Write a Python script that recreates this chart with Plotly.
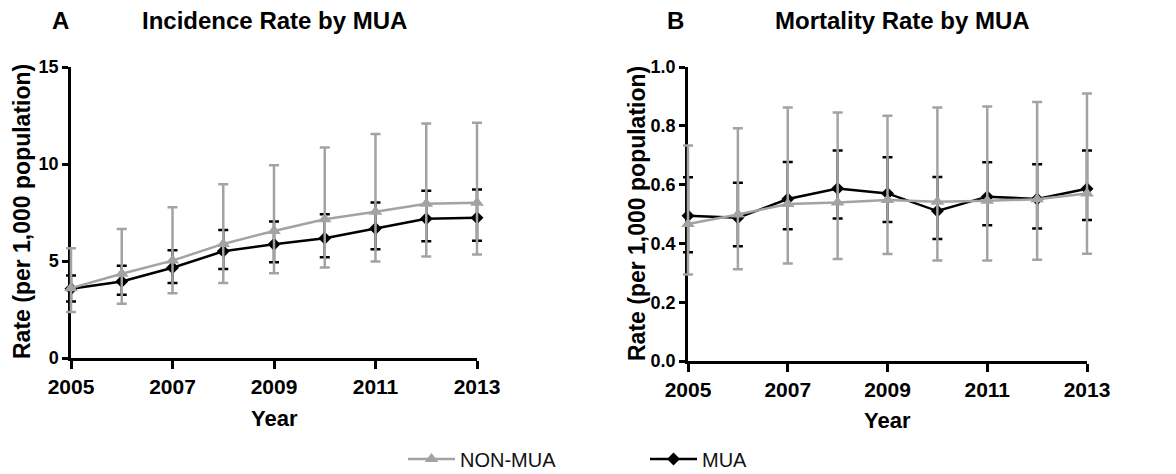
import plotly.graph_objects as go

years = [2005, 2006, 2007, 2008, 2009, 2010, 2011, 2012, 2013]

# Panel A: Incidence rate (per 1,000 population)
inc_non_mua = [3.6, 4.34, 5.02, 5.88, 6.55, 7.15, 7.54, 7.95, 8.0]
inc_non_mua_hi = [5.66, 6.65, 7.77, 8.95, 9.93, 10.85, 11.55, 12.09, 12.12]
inc_non_mua_lo = [2.37, 2.79, 3.34, 3.86, 4.37, 4.66, 4.97, 5.23, 5.33]
inc_mua = [3.57, 3.94, 4.65, 5.50, 5.86, 6.17, 6.67, 7.18, 7.23]
inc_mua_hi = [4.25, 4.75, 5.55, 6.60, 7.03, 7.41, 8.02, 8.62, 8.69]
inc_mua_lo = [2.91, 3.26, 3.87, 4.59, 4.94, 5.19, 5.61, 6.02, 6.05]

# Panel B: Mortality rate (per 1,000 population)
mor_non_mua = [0.466, 0.498, 0.534, 0.539, 0.548, 0.542, 0.545, 0.550, 0.570]
mor_non_mua_hi = [0.733, 0.792, 0.862, 0.845, 0.834, 0.862, 0.866, 0.881, 0.910]
mor_non_mua_lo = [0.294, 0.312, 0.332, 0.347, 0.364, 0.342, 0.342, 0.344, 0.365]
mor_mua = [0.494, 0.487, 0.551, 0.587, 0.570, 0.510, 0.559, 0.551, 0.586]
mor_mua_hi = [0.625, 0.606, 0.677, 0.716, 0.693, 0.626, 0.676, 0.669, 0.716]
mor_mua_lo = [0.37, 0.390, 0.448, 0.485, 0.473, 0.415, 0.462, 0.451, 0.480]

x_ticks = [2005, 2007, 2009, 2011, 2013]
GRAY = "#A3A3A3"
BLACK = "#000000"
FONT = "Liberation Sans, Arial, sans-serif"

W, H = 1176, 474
PAD = 12  # px of unclipped room around each plot for edge error bars

# pixel boxes of the two plot areas: (left, right, top, bottom)
boxA = (71, 477, 67, 358)
boxB = (688, 1087, 67, 361)
xrange_ = [2005, 2013]
yrangeA = [0, 15]
yrangeB = [0, 1.0]

fig = go.Figure()

# empty traces so the visible axis frames are drawn
for xa, ya in (("x", "y"), ("x2", "y2")):
    fig.add_trace(go.Scatter(x=[None], y=[None], xaxis=xa, yaxis=ya, mode="markers",
                             showlegend=False, hoverinfo="skip"))


def add_series(xa, ya, vals, hi, lo, name, color, symbol, msize, show):
    plus = [h - v for h, v in zip(hi, vals)]
    minus = [v - l for v, l in zip(vals, lo)]
    fig.add_trace(go.Scatter(
        x=years, y=vals, xaxis=xa, yaxis=ya, name=name,
        mode="lines+markers", showlegend=show, legendgroup=name,
        legendrank=1 if name == "NON-MUA" else 2, cliponaxis=False,
        line=dict(color=color, width=2.5),
        marker=dict(color=color, symbol=symbol, size=msize),
        error_y=dict(type="data", symmetric=False, array=plus, arrayminus=minus,
                     color=color, thickness=2.5, width=5),
    ))


add_series("x3", "y3", inc_mua, inc_mua_hi, inc_mua_lo, "MUA", BLACK, "diamond", 10, True)
add_series("x3", "y3", inc_non_mua, inc_non_mua_hi, inc_non_mua_lo, "NON-MUA", GRAY, "triangle-up", 12, True)
add_series("x4", "y4", mor_mua, mor_mua_hi, mor_mua_lo, "MUA", BLACK, "diamond", 10, False)
add_series("x4", "y4", mor_non_mua, mor_non_mua_hi, mor_non_mua_lo, "NON-MUA", GRAY, "triangle-up", 12, False)

axis_common = dict(showline=True, linecolor=BLACK, linewidth=2.5, showgrid=False, zeroline=False,
                   ticks="outside", tickcolor=BLACK, tickwidth=2.5, automargin=False, fixedrange=True)
xfont = dict(family=FONT, size=21, color=BLACK, weight="bold")
yfont = dict(family=FONT, size=18, color=BLACK, weight="bold")


def dom_x(box, pad=0):
    return [(box[0] - pad) / W, (box[1] + pad) / W]


def dom_y(box, pad=0):
    return [1 - (box[3] + pad) / H, 1 - (box[2] - pad) / H]


def padded(rng, box_lo, box_hi, pad):
    per = (rng[1] - rng[0]) / (box_hi - box_lo)
    return [rng[0] - pad * per, rng[1] + pad * per]


hidden = dict(visible=False, showgrid=False, zeroline=False, fixedrange=True)

fig.update_layout(
    width=W, height=H, margin=dict(l=0, r=0, t=0, b=0, autoexpand=False),
    paper_bgcolor="white", plot_bgcolor="rgba(0,0,0,0)",
    font=dict(family=FONT, color=BLACK),
    # visible axes
    xaxis=dict(domain=dom_x(boxA), range=xrange_, tickvals=x_ticks, ticklen=8,
               anchor="y", tickfont=xfont, **axis_common),
    yaxis=dict(domain=dom_y(boxA), range=yrangeA, tickvals=[0, 5, 10, 15], ticklen=6,
               anchor="x", tickfont=yfont, **axis_common),
    xaxis2=dict(domain=dom_x(boxB), range=xrange_, tickvals=x_ticks, ticklen=8,
                anchor="y2", tickfont=xfont, **axis_common),
    yaxis2=dict(domain=dom_y(boxB), range=yrangeB, tickvals=[0, 0.2, 0.4, 0.6, 0.8, 1.0],
                tickformat=".1f", ticklen=6, anchor="x2", tickfont=yfont, **axis_common),
    # same scales, slightly larger clip region, for the data
    xaxis3=dict(domain=dom_x(boxA, PAD), range=padded(xrange_, boxA[0], boxA[1], PAD),
                anchor="y3", **hidden),
    yaxis3=dict(domain=dom_y(boxA, PAD), range=padded(yrangeA, boxA[2], boxA[3], PAD),
                anchor="x3", **hidden),
    xaxis4=dict(domain=dom_x(boxB, PAD), range=padded(xrange_, boxB[0], boxB[1], PAD),
                anchor="y4", **hidden),
    yaxis4=dict(domain=dom_y(boxB, PAD), range=padded(yrangeB, boxB[2], boxB[3], PAD),
                anchor="x4", **hidden),
    legend=dict(orientation="h", x=403 / W, xanchor="left", y=1 - 459 / H, yanchor="middle",
                font=dict(family=FONT, size=20, color="#111111"), itemwidth=47,
                entrywidth=180, bgcolor="rgba(0,0,0,0)"),
)


def ann(text, x, y, size, angle=0, bold=True):
    fig.add_annotation(text=text, x=x / W, y=1 - y / H, xref="paper", yref="paper",
                       showarrow=False, textangle=angle, xanchor="center", yanchor="middle",
                       font=dict(family=FONT, size=size, color=BLACK, weight="bold" if bold else "normal"))


ann("A", 60, 20, 24)
ann("Incidence Rate by MUA", 274, 20, 24)
ann("B", 675, 20, 24)
ann("Mortality Rate by MUA", 902, 20, 24)
ann("Rate (per 1,000 population)", 22, 212, 23, angle=-90)
ann("Rate (per 1,000 population)", 637, 214, 23, angle=-90)
ann("Year", 274, 418, 22)
ann("Year", 887, 420, 22)

fig.write_html("out.html", config={"displayModeBar": False},
               post_script="document.body.style.margin='0';document.body.style.overflow='hidden';")
